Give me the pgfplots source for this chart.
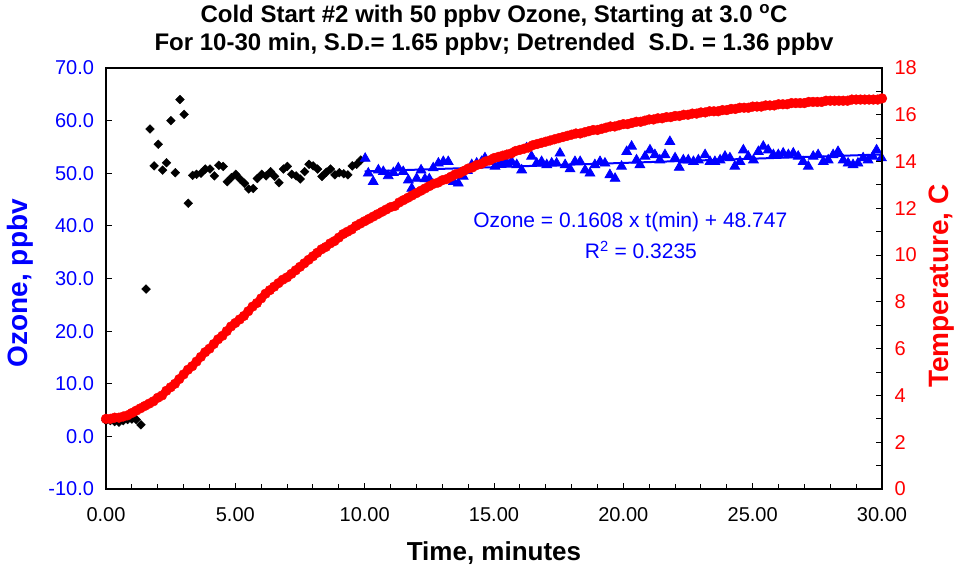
\documentclass[border=0pt]{standalone}
\usepackage{pgfplots}
\pgfplotsset{compat=1.18}
\usepackage{fontspec}
\setmainfont{Liberation Sans}
\definecolor{oblue}{RGB}{0,0,255}
\definecolor{ored}{RGB}{255,0,0}
\begin{document}
\begin{tikzpicture}[x=1pt,y=1pt]
\useasboundingbox (-106,-82) rectangle (849,489);
\begin{axis}[
  at={(0,0)}, anchor=south west, scale only axis, width=776pt, height=421pt,
  xmin=0, xmax=30, ymin=-10, ymax=70,
  axis line style={line width=1.8pt},
  xtick={0,5,...,30}, xticklabels={0.00,5.00,10.00,15.00,20.00,25.00,30.00},
  minor x tick num=4,
  ytick={-10,0,...,70}, yticklabels={-10.0,0.0,10.0,20.0,30.0,40.0,50.0,60.0,70.0},
  xtick pos=bottom, ytick pos=left, tick align=inside,
  major tick length=6pt, minor tick length=5pt,
  tick style={black, line width=1pt},
  x tick label style={font=\fontsize{20}{24}\selectfont, black, yshift=-15pt},
  y tick label style={font=\fontsize{20}{24}\selectfont, text=oblue, xshift=-8.5pt},
  xlabel={Time, minutes},
  xlabel style={font=\bfseries\fontsize{26}{30}\selectfont, at={(axis description cs:0.5,-0.152)}, anchor=center},
  ylabel={Ozone, ppbv},
  ylabel style={font=\bfseries\fontsize{28}{32}\selectfont, text=oblue, at={(axis description cs:-0.110,0.489)}, anchor=center},
  title={Cold Start \#2 with 50 ppbv Ozone, Starting at 3.0 \textsuperscript{o}C\\For 10-30 min, S.D.= 1.65 ppbv; Detrended\ \ S.D. = 1.36 ppbv},
  title style={font=\bfseries\fontsize{24}{28}\selectfont, align=center, at={(axis description cs:0.5,1.076)}, anchor=center},
  clip=false,
]
% Ozone 0-10 min (black diamonds)
\addplot[only marks, mark=square*, mark size=3.1pt, mark options={rotate=45, fill=black, draw=black}] table {
t O
0.000 3.0
0.167 3.0
0.333 2.8
0.500 2.7
0.667 3.0
0.833 3.2
1.000 3.3
1.167 3.2
1.350 2.2
1.550 28.0
1.70 58.4
1.86 51.4
2.02 55.5
2.19 50.6
2.34 52.0
2.51 60.0
2.68 50.1
2.86 64.0
3.02 61.2
3.18 44.3
3.35 49.6
3.50 49.8
3.67 50.0
3.84 50.8
4.02 50.8
4.19 49.5
4.36 51.5
4.53 51.3
4.69 48.4
4.85 49.2
5.02 49.8
5.18 48.9
5.35 48.1
5.52 47.0
5.69 47.1
5.85 49.0
6.02 49.8
6.19 49.5
6.36 50.3
6.52 49.4
6.69 48.2
6.86 50.8
7.01 51.3
7.18 49.8
7.35 49.5
7.51 48.9
7.68 50.3
7.85 51.7
8.01 51.4
8.18 50.8
8.35 49.4
8.52 50.2
8.68 50.8
8.85 49.7
9.02 50.1
9.19 49.9
9.35 49.7
9.52 51.4
9.69 51.7
9.85 52.5
};
% Ozone 10-30 min (blue triangles)
\addplot[only marks, mark=triangle*, mark size=5.6pt, color=oblue, mark options={line width=0.8pt}] table {
t O
10.02 52.8
10.14 50.0
10.33 48.4
10.53 50.6
10.72 50.3
10.91 49.5
11.11 50.1
11.30 51.0
11.49 50.3
11.69 48.7
11.82 47.1
12.01 49.0
12.18 50.6
12.33 48.9
12.50 48.9
12.65 51.0
12.85 51.9
13.04 52.2
13.23 52.2
13.43 48.4
13.62 48.1
13.81 49.4
13.97 50.5
14.14 51.6
14.33 51.9
14.52 52.2
14.65 52.9
14.84 52.2
15.04 51.3
15.23 51.9
15.36 52.3
15.49 52.0
15.68 52.2
15.88 51.6
16.07 50.6
16.26 54.8
16.45 53.2
16.65 51.9
16.84 52.2
17.04 51.6
17.23 51.9
17.42 51.9
17.55 53.8
17.75 51.6
17.94 50.8
18.13 52.2
18.33 52.2
18.52 50.6
18.71 50.0
18.90 51.6
19.10 52.2
19.29 51.9
19.48 49.7
19.68 49.0
19.93 51.3
20.13 54.1
20.32 55.1
20.51 52.5
20.64 51.6
20.84 53.2
21.03 54.4
21.22 53.5
21.41 52.5
21.61 53.5
21.80 56.0
22.00 52.9
22.16 51.1
22.32 52.5
22.51 52.5
22.71 52.2
22.90 52.5
23.16 53.5
23.35 52.2
23.54 52.2
23.74 52.5
23.93 53.2
24.12 52.9
24.31 51.3
24.51 52.2
24.64 54.4
24.83 53.2
25.03 52.5
25.22 54.1
25.41 55.1
25.60 54.4
25.80 53.5
25.99 53.5
26.18 53.8
26.38 53.5
26.57 53.8
26.76 53.2
26.95 52.2
27.15 51.3
27.34 53.2
27.53 53.5
27.73 52.2
27.92 52.5
28.11 53.5
28.30 54.1
28.50 52.5
28.69 51.9
28.88 51.6
29.07 51.9
29.27 52.9
29.46 52.5
29.65 53.2
29.79 54.4
29.98 52.9
};
% Linear trend 10-30 min
\addplot[oblue, line width=2pt, no marks] coordinates {(10,50.355) (30,53.571)};
\node[font=\fontsize{21}{25}\selectfont, text=oblue] at (axis cs:20.27,40.7) {Ozone = 0.1608 x t(min) + 48.747};
\node[font=\fontsize{21}{25}\selectfont, text=oblue] at (axis cs:20.68,35.4) {R\textsuperscript{2} = 0.3235};
\end{axis}
\begin{axis}[
  at={(0,0)}, anchor=south west, scale only axis, width=776pt, height=421pt,
  xmin=0, xmax=30, ymin=0, ymax=18,
  hide x axis, axis y line*=right,
  axis line style={line width=1.8pt},
  ytick={0,2,...,18}, yticklabels={0,2,4,6,8,10,12,14,16,18},
  minor y tick num=1,
  tick align=inside,
  major tick length=6pt, minor tick length=6pt,
  tick style={black, line width=1pt},
  y tick label style={font=\fontsize{20}{24}\selectfont, text=ored, xshift=9pt},
  ylabel={Temperature, C},
  ylabel style={font=\bfseries\fontsize{28}{32}\selectfont, text=ored, at={(axis description cs:1.077,0.482)}, anchor=center},
  clip=false,
]
\addplot[only marks, mark=*, mark size=4.9pt, color=ored] table {
t T
0.000 3.00
0.167 3.00
0.333 3.05
0.500 3.05
0.667 3.10
0.833 3.15
1.000 3.25
1.167 3.35
1.333 3.45
1.500 3.55
1.667 3.65
1.833 3.75
2.000 3.90
2.167 4.00
2.333 4.20
2.500 4.35
2.667 4.50
2.833 4.70
3.000 4.90
3.167 5.10
3.333 5.25
3.500 5.45
3.667 5.65
3.833 5.85
4.000 6.00
4.167 6.20
4.333 6.40
4.500 6.55
4.667 6.75
4.833 6.95
5.000 7.10
5.167 7.25
5.333 7.40
5.500 7.60
5.667 7.80
5.833 7.95
6.000 8.15
6.167 8.35
6.333 8.50
6.500 8.65
6.667 8.80
6.833 8.95
7.000 9.05
7.167 9.20
7.333 9.35
7.500 9.50
7.667 9.65
7.833 9.80
8.000 9.95
8.167 10.10
8.333 10.25
8.500 10.35
8.667 10.50
8.833 10.60
9.000 10.75
9.167 10.90
9.333 11.00
9.500 11.10
9.667 11.25
9.833 11.35
10.000 11.45
10.167 11.55
10.333 11.65
10.500 11.75
10.667 11.85
10.833 11.95
11.000 12.05
11.167 12.10
11.333 12.25
11.500 12.35
11.667 12.45
11.833 12.55
12.000 12.65
12.167 12.75
12.333 12.85
12.500 12.95
12.667 13.05
12.833 13.10
13.000 13.20
13.167 13.25
13.333 13.35
13.500 13.45
13.667 13.50
13.833 13.60
14.000 13.70
14.167 13.75
14.333 13.85
14.500 13.90
14.667 14.00
14.833 14.05
15.000 14.15
15.167 14.20
15.333 14.25
15.500 14.30
15.667 14.35
15.833 14.45
16.000 14.50
16.167 14.55
16.333 14.60
16.500 14.70
16.667 14.75
16.833 14.80
17.000 14.85
17.167 14.90
17.333 14.95
17.500 15.00
17.667 15.05
17.833 15.10
18.000 15.15
18.167 15.20
18.333 15.20
18.500 15.25
18.667 15.30
18.833 15.35
19.000 15.35
19.167 15.40
19.333 15.45
19.500 15.50
19.667 15.50
19.833 15.55
20.000 15.60
20.167 15.60
20.333 15.65
20.500 15.70
20.667 15.70
20.833 15.75
21.000 15.80
21.167 15.80
21.333 15.85
21.500 15.85
21.667 15.90
21.833 15.90
22.000 15.95
22.167 15.95
22.333 16.00
22.500 16.00
22.667 16.05
22.833 16.05
23.000 16.10
23.167 16.10
23.333 16.15
23.500 16.15
23.667 16.15
23.833 16.20
24.000 16.20
24.167 16.25
24.333 16.25
24.500 16.30
24.667 16.30
24.833 16.30
25.000 16.35
25.167 16.35
25.333 16.35
25.500 16.40
25.667 16.40
25.833 16.40
26.000 16.45
26.167 16.45
26.333 16.45
26.500 16.50
26.667 16.50
26.833 16.50
27.000 16.50
27.167 16.55
27.333 16.55
27.500 16.55
27.667 16.55
27.833 16.60
28.000 16.60
28.167 16.60
28.333 16.60
28.500 16.60
28.667 16.60
28.833 16.65
29.000 16.65
29.167 16.65
29.333 16.65
29.500 16.65
29.667 16.65
29.833 16.65
30.000 16.70
};
\end{axis}
\end{tikzpicture}
\end{document}
